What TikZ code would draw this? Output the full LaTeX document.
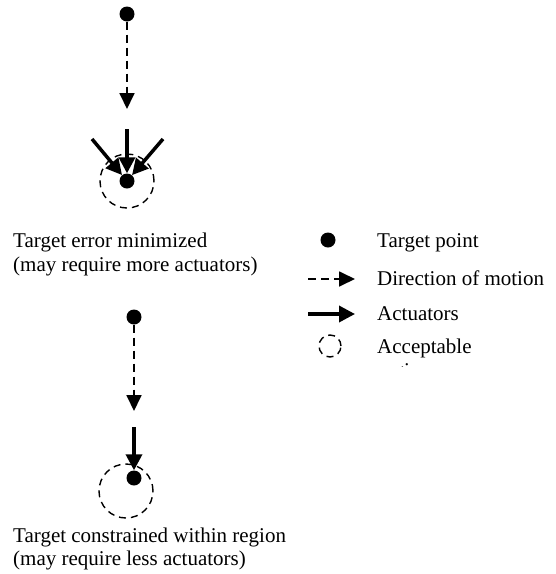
\documentclass[tikz,border=0pt]{standalone}
\usepackage{fontspec}
\setmainfont{Liberation Serif}
\usetikzlibrary{arrows.meta}
\begin{document}
\begin{tikzpicture}[x=1pt,y=-1pt,
  dot/.style={circle,fill=black,inner sep=0pt,minimum size=15pt},
  region/.style={circle,draw=black,line width=1.4pt,dash pattern=on 7pt off 5pt,inner sep=0pt},
  motion/.style={line width=1.8pt,dash pattern=on 8pt off 5pt,-{Triangle[length=16pt,width=15pt]}},
  actuator/.style={line width=3.5pt,-{Triangle[length=16pt,width=16pt]}},
  lbl/.style={anchor=base west,inner sep=0pt,font=\fontsize{21}{24}\selectfont}]
\useasboundingbox[fill=white] (0,0) rectangle (556,574);

% upper scheme: target error minimized
\node[dot] (d1) at (127,14) {};
\coordinate (t1) at (127,109);
\draw[motion] (d1) -- (t1);
\node[dot] (d2) at (127,181) {};
\node[region,minimum size=54pt] (c1) at (127,181) {};
\coordinate (s1) at (92,139);
\coordinate (s2) at (127,129);
\coordinate (s3) at (163,139);
\draw[actuator] (s1) -- (d2);
\draw[actuator] (s2) -- (d2);
\draw[actuator] (s3) -- (d2);
\node[lbl] (e1) at (13,247) {Target error minimized};
\node[lbl] (e2) at (13,271) {(may require more actuators)};

% lower scheme: target constrained within region
\node[dot] (d3) at (134,317) {};
\coordinate (t3) at (134,411);
\draw[motion] (d3) -- (t3);
\node[dot] (d4) at (134,478) {};
\node[region,minimum size=54pt] (c2) at (126,491) {};
\coordinate (s4) at (134,427);
\draw[actuator] (s4) -- (d4);
\node[lbl] (f1) at (13,542) {Target constrained within region};
\node[lbl] (f2) at (13,565) {(may require less actuators)};

% legend
\node[dot] (ld) at (328,240) {};
\node[lbl] (L1) at (377,247) {Target point};
\coordinate (m1) at (308,279);
\coordinate (m2) at (355,279);
\draw[motion] (m1) -- (m2);
\node[lbl] (L2) at (377,285) {Direction of motion};
\coordinate (a1) at (308,314);
\coordinate (a2) at (355,314);
\draw[actuator] (a1) -- (a2);
\node[lbl] (L3) at (377,320) {Actuators};
\node[region,minimum size=22pt] (lc) at (330,346) {};
\node[lbl] (L4) at (377,353) {Acceptable};
\begin{scope}
  \clip (370,358) rectangle (480,366.6);
  \node[lbl] (L5) at (377,377) {region};
\end{scope}
\end{tikzpicture}
\end{document}
